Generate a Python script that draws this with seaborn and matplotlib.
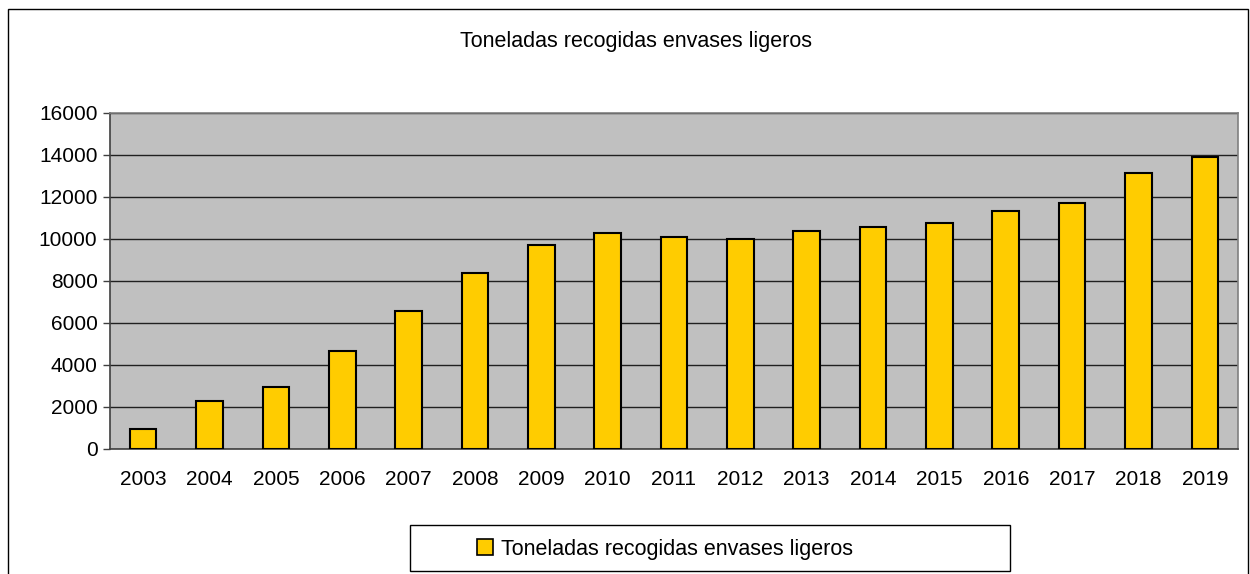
import numpy as np
import pandas as pd
import matplotlib
matplotlib.use("Agg")
import matplotlib.pyplot as plt
import seaborn as sns
from matplotlib.patches import Rectangle, Patch

years = ["2003", "2004", "2005", "2006", "2007", "2008", "2009", "2010", "2011",
         "2012", "2013", "2014", "2015", "2016", "2017", "2018", "2019"]
toneladas = [970, 2290, 2960, 4680, 6570, 8380, 9710, 10290, 10110,
             10020, 10380, 10570, 10760, 11350, 11710, 13160, 13920]
yticks = [0, 2000, 4000, 6000, 8000, 10000, 12000, 14000, 16000]
label = "Toneladas recogidas envases ligeros"

sns.set_style("white")
plt.rcParams["font.family"] = ["Liberation Sans", "DejaVu Sans"]
plt.rcParams["text.color"] = "black"
plt.rcParams["xtick.labelcolor"] = "black"
plt.rcParams["ytick.labelcolor"] = "black"

df = pd.DataFrame({"year": years, "value": toneladas})

fig = plt.figure(figsize=(12.5, 5.74), dpi=100)
ax = fig.add_axes([110/1250, 1-449/574, (1238-110)/1250, (449-113)/574])
ax.set_facecolor("#C0C0C0")

sns.barplot(data=df, x="year", y="value", color="#FFCC00", saturation=1,
            edgecolor="black", linewidth=1.5, width=0.4, ax=ax, zorder=3)

ax.set_ylim(0, 16000)
ax.set_xlim(-0.5, len(years)-0.5)
ax.set_yticks(yticks)
ax.set_yticklabels([str(v) for v in yticks], fontsize=15)
ax.yaxis.grid(True, color="#202020", linewidth=1, zorder=0)
ax.set_axisbelow(True)
ax.set_xlabel("")
ax.set_ylabel("")

# excel style ticks between categories
ax.set_xticks(np.arange(len(years)))
ax.set_xticklabels(years, fontsize=15)
ax.set_xticks(np.arange(-0.5, len(years)), minor=True)
ax.tick_params(axis="x", which="major", length=0, pad=15)
ax.tick_params(axis="x", which="minor", length=5, width=1, color="#404040", direction="out")
ax.tick_params(axis="y", length=5, width=1, color="#404040", direction="out", pad=4, left=True)

for s in ["left", "bottom"]:
    ax.spines[s].set_color("#404040")
    ax.spines[s].set_linewidth(1.2)
for s in ["top", "right"]:
    ax.spines[s].set_color("#808080")
    ax.spines[s].set_linewidth(1.2)

fig.text(636/1250, 1-41/574, label, ha="center", va="center", fontsize=15.5)

# outer chart frame
fig.patches.append(Rectangle((8/1250, -0.05), 1240/1250, 1-9/574+0.05,
                             transform=fig.transFigure, fill=False,
                             edgecolor="black", linewidth=1))

# legend box
fig.patches.append(Rectangle((410/1250, 1-571/574), 600/1250, 46/574,
                             transform=fig.transFigure, fill=False,
                             edgecolor="black", linewidth=1))
handle = Patch(facecolor="#FFCC00", edgecolor="black", linewidth=1.2)
fig.legend([handle], [label], loc="center", bbox_to_anchor=(665/1250, 1-549/574),
           frameon=False, fontsize=15.5, handlelength=0.75, handleheight=0.75,
           handletextpad=0.35)

fig.savefig("out.png", dpi=100)
